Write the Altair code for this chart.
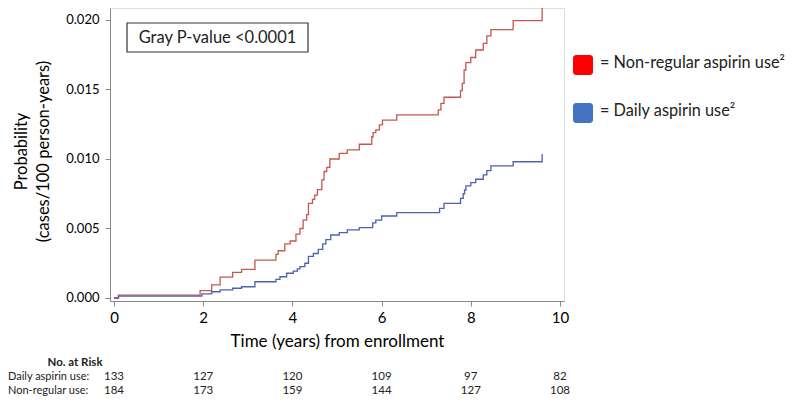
import altair as alt
import pandas as pd

# ---- data ----
red_t = [0, 0.1, 1.93, 2.19, 2.38, 2.66, 2.86, 3.16, 3.63, 3.68,
         3.83, 3.95, 4.08, 4.17, 4.24, 4.32, 4.36, 4.45, 4.5, 4.56,
         4.66, 4.71, 4.77, 4.84, 5.05, 5.23, 5.5, 5.78, 5.81, 5.87,
         5.95, 6.02, 6.34, 7.27, 7.33, 7.4, 7.77, 7.81, 7.85, 7.89,
         8.0, 8.11, 8.28, 8.36, 8.45, 8.95, 9.6]
red_v = [0, 0.0002, 0.00053, 0.00094, 0.0015, 0.00185, 0.00206, 0.00273, 0.00314, 0.0034,
         0.0039, 0.0041, 0.0046, 0.005, 0.0056, 0.006, 0.0068, 0.0071, 0.0074, 0.0078,
         0.0085, 0.0091, 0.0094, 0.0100, 0.0104, 0.01065, 0.01106, 0.0116, 0.0119, 0.0121,
         0.01245, 0.0128, 0.01317, 0.01353, 0.0140, 0.01444, 0.01492, 0.01544, 0.0164, 0.01693,
         0.0173, 0.01784, 0.01832, 0.01885, 0.0193, 0.01995, 0.0209]

blue_t = [0, 0.1, 1.97, 2.19, 2.38, 2.66, 2.86, 3.16, 3.63, 3.72,
          3.87, 4.02, 4.11, 4.17, 4.28, 4.36, 4.47, 4.58, 4.68, 4.75,
          4.86, 5.05, 5.23, 5.5, 5.8, 5.87, 6.0, 6.34, 7.3, 7.4,
          7.77, 7.83, 7.86, 7.89, 8.0, 8.11, 8.28, 8.36, 8.45, 8.95,
          9.6]
blue_v = [0, 0.00014, 0.00029, 0.00045, 0.00058, 0.0007, 0.00081, 0.00117, 0.00134, 0.00153,
          0.00178, 0.00194, 0.00209, 0.00225, 0.0025, 0.0030, 0.0032, 0.0035, 0.0039, 0.0042,
          0.00453, 0.0047, 0.0049, 0.00506, 0.0054, 0.0056, 0.0059, 0.00614, 0.00645, 0.0068,
          0.00717, 0.0075, 0.00777, 0.00806, 0.0083, 0.00854, 0.00885, 0.00916, 0.0095, 0.0098,
          0.01036]

groups = ["Non-regular aspirin use", "Daily aspirin use"]
line_colors = ["#c4574f", "#4b62b1"]
legend_labels = ["= Non-regular aspirin use\u00b2", "= Daily aspirin use\u00b2"]
legend_colors = ["#ff0000", "#4472c4"]

risk_times = [0, 2, 4, 6, 8, 10]
risk_daily = [133, 127, 120, 109, 97, 82]
risk_nonreg = [184, 173, 159, 144, 127, 108]
risk_rows = ["Daily aspirin use:", "Non-regular use:"]

x_ticks = [0, 2, 4, 6, 8, 10]
y_ticks = [0.0, 0.005, 0.010, 0.015, 0.020]

FONT = "Lato"
TXT = "#222222"

# ---- tables ----
curves = pd.concat([
    pd.DataFrame({"time": red_t, "prob": red_v, "group": groups[0]}),
    pd.DataFrame({"time": blue_t, "prob": blue_v, "group": groups[1]}),
])
risk_d = pd.DataFrame({"time": risk_times, "n": risk_daily})
risk_n = pd.DataFrame({"time": risk_times, "n": risk_nonreg})
one = pd.DataFrame({"k": [0]})

W, H = 454, 293

xscale = alt.Scale(domain=[-0.09, 10.09], nice=False, zero=False)
yscale = alt.Scale(domain=[-0.000216, 0.02086], nice=False, zero=False)

lines = alt.Chart(curves).mark_line(interpolate="step-after", strokeWidth=1.3, clip=False).encode(
    x=alt.X("time:Q", scale=xscale,
            axis=alt.Axis(values=x_ticks, format="d", title="Time (years) from enrollment",
                          labelFontSize=15, titleFontSize=17, titlePadding=8,
                          titleFont=FONT, labelFont=FONT, titleFontWeight="normal",
                          labelPadding=4, tickSize=5, grid=False)),
    y=alt.Y("prob:Q", scale=yscale,
            axis=alt.Axis(values=y_ticks, format=".3f",
                          title=["Probability", "(cases/100 person-years)"],
                          labelFontSize=13, labelPadding=6, tickSize=5, grid=False,
                          titleFont=FONT, labelFont=FONT,
                          titleFontSize=16.5, titleFontWeight="normal",
                          titleLineHeight=22, titleX=-89, titleY=143,
                          titleAlign="center", titleBaseline="middle", titleAngle=270)),
    color=alt.Color("group:N", scale=alt.Scale(domain=groups, range=line_colors), legend=None),
    detail="group:N",
)

pbox = alt.Chart(one).mark_rect(fill="white", stroke="#333333", strokeWidth=1.2).encode(
    x=alt.value(17), x2=alt.value(198), y=alt.value(15), y2=alt.value(44))
ptext = alt.Chart(one).mark_text(text="Gray P-value <0.0001", font=FONT, fontSize=16.5,
                                 color=TXT, align="center", baseline="middle").encode(
    x=alt.value(107.5), y=alt.value(30))

leg_layers = []
for i, (lab, col) in enumerate(zip(legend_labels, legend_colors)):
    top = 47 + 48 * i
    leg_layers.append(alt.Chart(one).mark_rect(fill=col, cornerRadius=3).encode(
        x=alt.value(463), x2=alt.value(483), y=alt.value(top), y2=alt.value(top + 20)))
    leg_layers.append(alt.Chart(one).mark_text(text=lab, font=FONT, fontSize=16.3, color=TXT,
                                               align="left", baseline="middle").encode(
        x=alt.value(490), y=alt.value(top + 8)))

hdr = alt.Chart(one).mark_text(text="No. at Risk", font=FONT, fontSize=11.5, fontWeight="bold",
                               color=TXT, align="center", baseline="middle").encode(
    x=alt.value(-35), y=alt.value(355))
row_layers = []
for j, (lab, dfr) in enumerate(zip(risk_rows, [risk_d, risk_n])):
    yy = 369 + 14 * j
    row_layers.append(alt.Chart(one).mark_text(text=lab, font=FONT, fontSize=11, color=TXT,
                                               align="left", baseline="middle").encode(
        x=alt.value(-102), y=alt.value(yy)))
    row_layers.append(alt.Chart(dfr).mark_text(font=FONT, fontSize=11.5, color=TXT,
                                               align="center", baseline="middle").encode(
        x=alt.X("time:Q", scale=xscale), y=alt.value(yy), text="n:Q"))

chart = alt.layer(lines, pbox, ptext, *leg_layers, hdr, *row_layers).properties(
    width=W, height=H,
    padding={"left": 102, "top": 0, "right": 228, "bottom": 96},
    autosize=alt.AutoSizeParams(type="none"),
).configure_view(
    stroke="#c9c9c9", strokeWidth=1.5
).configure_axis(
    domainColor="#c9c9c9", domainWidth=1.5, tickColor="#b0b0b0",
    labelColor=TXT, titleColor=TXT, labelFont=FONT, titleFont=FONT,
    titleFontWeight="normal",
).configure(background="white")

chart.save("out.html", embed_options={"renderer": "svg", "actions": False})
